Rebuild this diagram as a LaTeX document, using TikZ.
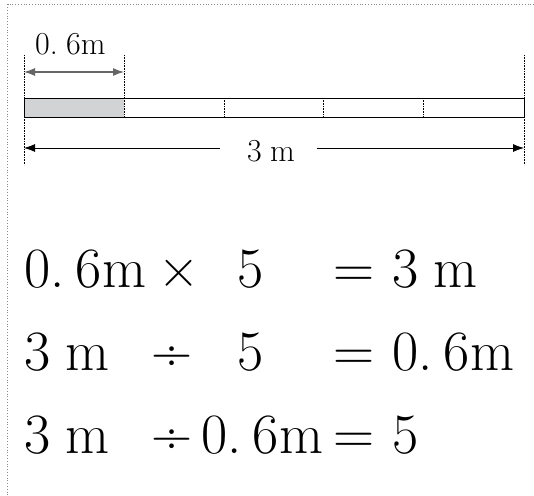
\documentclass[tikz,border=0pt]{standalone}
\usetikzlibrary{arrows.meta,positioning}
\definecolor{barfill}{HTML}{D2D3D5}
\definecolor{framegray}{HTML}{8A8A8A}
\newcommand{\dgap}{\hspace{0.2em}}
\newcommand{\mgap}{\hspace{0.26em}}

\begin{document}
\begin{tikzpicture}[x=1pt,y=-1pt,>={Latex[length=11pt,width=8pt]},
  every node/.style={inner sep=0pt,anchor=base west},
  dimline/.style={densely dotted,line width=0.6pt},
  eq/.style={font=\fontsize{57}{60}\selectfont},
  lbl/.style={font=\fontsize{32}{36}\selectfont}]
\useasboundingbox (0,0) rectangle (534,495);
% frame
\draw[framegray,dotted,line width=0.8pt] (534,4.5) -- (7.5,4.5) -- (7.5,495);
% tape
\coordinate (barA) at (24,98);
\coordinate (barB) at (524,117);
\fill[barfill] (24,98) rectangle (124,117);
\foreach \xi in {124,224,323,423}
  \draw[dimline] (\xi,98) -- (\xi,117);
\draw[line width=0.8pt] (barA) rectangle (barB);
% extension lines
\draw[dimline] (24,55) -- (24,98);
\draw[dimline] (24,117) -- (24,165);
\draw[dimline] (124,55) -- (124,98);
\draw[dimline] (524,55) -- (524,98);
\draw[dimline] (524,117) -- (524,165);
% small span
\coordinate (partL) at (24,72);
\coordinate (partR) at (124,72);
\draw[<->,gray!80!black,line width=1.2pt] (partL) -- (partR);
\node[lbl] (partlbl) at (35,55) {0.\hspace{0.26em}6m};
% whole span
\node[lbl,anchor=base] (wholelbl) at (271,161) {3\mgap m};
\coordinate (wholeL) at (24,148);
\coordinate (wholeR) at (524,148);
\draw[->,line width=0.8pt] (wholelbl.west |- wholeL) ++(-27,0) -- (wholeL);
\draw[->,line width=0.8pt] (wholelbl.east |- wholeR) ++(22,0) -- (wholeR);
% equations
\node[eq] (a1) at (24,287) {0.\dgap6m};
\node[eq] (b1) at (158,287) {\texttimes};
\node[eq] (c1) at (237,287) {5};
\node[eq] (d1) at (333,287) {=};
\node[eq] (e1) at (392,287) {3\mgap m};
\node[eq] (a2) at (24,370) {3\mgap m};
\node[eq] (b2) at (151,370) {\textdiv};
\node[eq] (c2) at (237,370) {5};
\node[eq] (d2) at (333,370) {=};
\node[eq] (e2) at (392,370) {0.\dgap6m};
\node[eq] (a3) at (24,453) {3\mgap m};
\node[eq] (b3) at (151,453) {\textdiv};
\node[eq] (c3) at (201,453) {0.\dgap6m};
\node[eq] (d3) at (333,453) {=};
\node[eq] (e3) at (392,453) {5};
\end{tikzpicture}
\end{document}
